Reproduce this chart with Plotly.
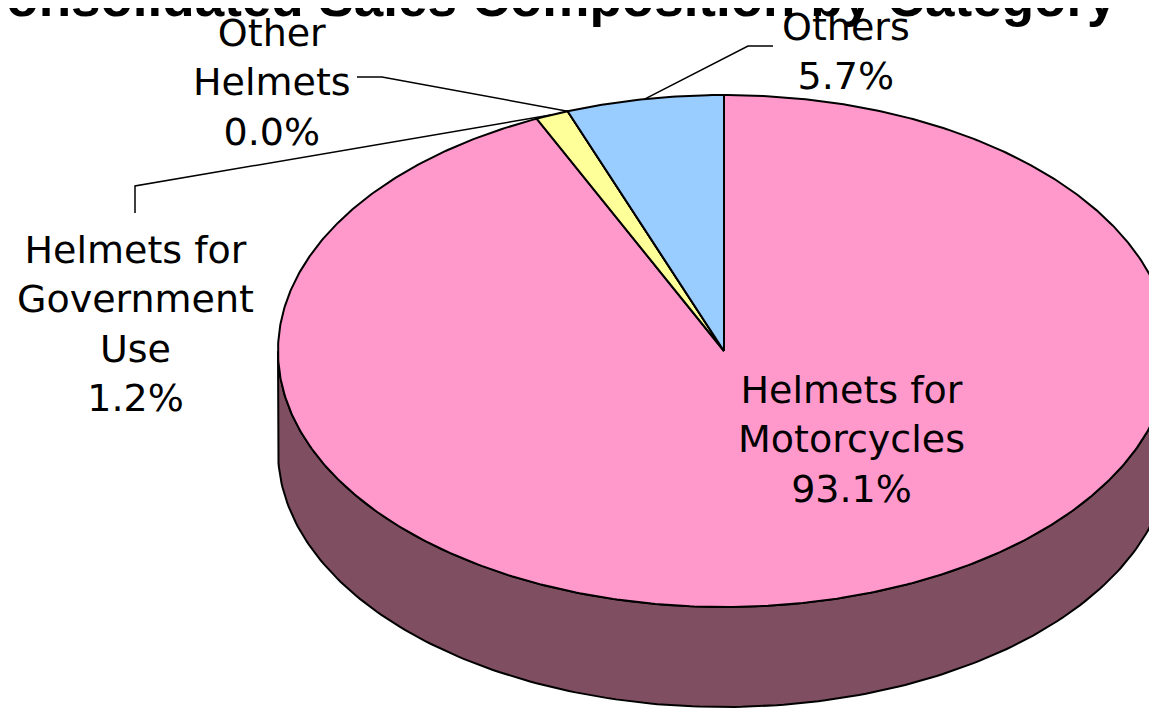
import numpy as np
import plotly.graph_objects as go

# ---- data ----
categories = ["Helmets for Motorcycles", "Helmets for Government Use", "Other Helmets", "Others"]
label_lines = ["Helmets for<br>Motorcycles", "Helmets for<br>Government<br>Use", "Other<br>Helmets", "Others"]
shares = [93.1, 1.2, 0.0, 5.7]
top_colors = ["#FF99CC", "#FFFF99", "#CCFFCC", "#99CCFF"]
side_colors = ["#7F4F61", "#80804D", "#668066", "#4D6680"]
title_text = "Consolidated Sales Composition by Category"

# ---- geometry of the tilted pie (layout, in page pixels) ----
W, H = 1157, 710
OFF = 8  # default page body margin
cx, cy, rx, ry, depth = 724, 351, 446, 256, 100

def pt(theta_deg, dy=0.0):
    t = np.radians(theta_deg)
    return cx + rx * np.sin(t), cy - ry * np.cos(t) + dy

fig = go.Figure()

total = sum(shares)
bounds = np.concatenate([[0], np.cumsum(shares) / total * 360.0])

# side walls (only front half visible: 90..270 deg clockwise from top)
for i in range(len(shares)):
    a0, a1 = max(bounds[i], 90.0), min(bounds[i + 1], 270.0)
    if a1 <= a0:
        continue
    th = np.linspace(a0, a1, 200)
    xt, yt = pt(th)
    xb, yb = pt(th[::-1], depth)
    fig.add_trace(go.Scatter(
        x=np.concatenate([xt, xb, xt[:1]]), y=np.concatenate([yt, yb, yt[:1]]),
        mode="lines", fill="toself", fillcolor=side_colors[i],
        line=dict(color="black", width=2), hoverinfo="skip", showlegend=False))

# top faces
for i in range(len(shares)):
    a0, a1 = bounds[i], bounds[i + 1]
    n = max(int((a1 - a0) * 2), 2)
    th = np.linspace(a0, a1, n)
    xa, ya = pt(th)
    fig.add_trace(go.Scatter(
        x=np.concatenate([[cx], xa, [cx]]), y=np.concatenate([[cy], ya, [cy]]),
        mode="lines", fill="toself", fillcolor=top_colors[i],
        line=dict(color="black", width=2), hoverinfo="skip", showlegend=False))

mids = (bounds[:-1] + bounds[1:]) / 2.0
label_font = dict(family="DejaVu Sans", size=38, color="black")

# label placement (layout), leader bend points (layout)
label_pos = [(851, 439), (135, 324), (272, 82), (846, 51)]
leaders = {
    1: [(135, 213), (135, 186)],
    2: [(357, 77), (382, 77)],
    3: [(773, 46), (748, 46)],
}
for i in range(len(shares)):
    txt = f"{label_lines[i]}<br>{shares[i]:.1f}%"
    x, y = label_pos[i]
    fig.add_annotation(x=x, y=y, xref="x", yref="y", text=txt, showarrow=False,
                       xanchor="center", yanchor="middle", font=label_font)
    if i in leaders:
        ex, ey = pt(mids[i])
        pts = leaders[i] + [(ex, ey)]
        fig.add_trace(go.Scatter(x=[p[0] for p in pts], y=[p[1] for p in pts],
                                 mode="lines", line=dict(color="black", width=1.5),
                                 hoverinfo="skip", showlegend=False))

fig.add_annotation(x=542, y=29, xref="x", yref="y", text=f"<b>{title_text}</b>",
                   showarrow=False, xanchor="center", yanchor="bottom",
                   font=dict(family="Liberation Sans", size=53, color="black"))

fig.update_layout(
    width=W, height=H, margin=dict(l=0, r=0, t=0, b=0),
    paper_bgcolor="white", plot_bgcolor="white",
    xaxis=dict(range=[OFF, W + OFF], visible=False, fixedrange=True),
    yaxis=dict(range=[H + OFF, OFF], visible=False, fixedrange=True),
)

fig.write_html("out.html")
